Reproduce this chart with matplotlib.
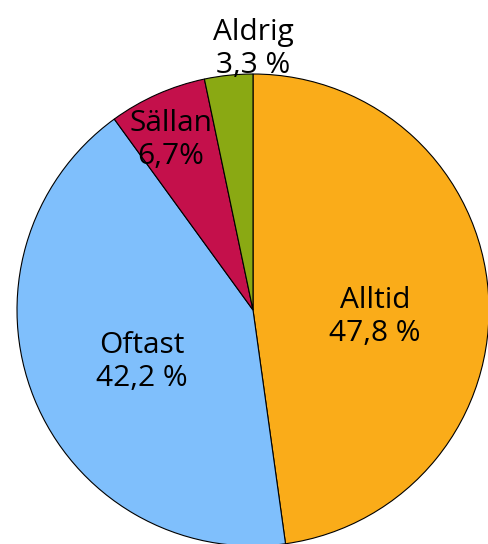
import numpy as np
import matplotlib.pyplot as plt

labels = ['Alltid', 'Oftast', 'Sällan', 'Aldrig']
values = [47.8, 42.2, 6.7, 3.3]
value_texts = ['47,8 %', '42,2 %', '6,7%', '3,3 %']
colors = ['#FAAC19', '#7FBFFC', '#C4104B', '#8AA913']

fig = plt.figure(figsize=(4.88, 5.44), dpi=100)
ax = fig.add_axes([0, 0, 1, 1])

cx, cy, r = 253, 234, 236
wedges, _ = ax.pie(values, colors=colors, startangle=90, counterclock=False,
                   center=(cx, cy), radius=r, frame=True,
                   wedgeprops=dict(edgecolor='black', linewidth=0.8))
ax.set_xlim(0, 488)
ax.set_ylim(0, 544)
ax.axis('off')

# label placement: distance (fraction of radius) and angle in degrees
label_dist = [0.518, 0.519, 0.80, 1.106]
label_angle = [-3.3, -154.9, 115.8, 90]
for lab, txt, d, a in zip(labels, value_texts, label_dist, label_angle):
    ang = np.deg2rad(a)
    x = cx + d * r * np.cos(ang)
    y = cy + d * r * np.sin(ang)
    ax.text(x, y, lab + '\n' + txt, ha='center', va='center',
            fontsize=21.5, family='Open Sans', linespacing=1.22)

fig.savefig('out.png', dpi=100)
